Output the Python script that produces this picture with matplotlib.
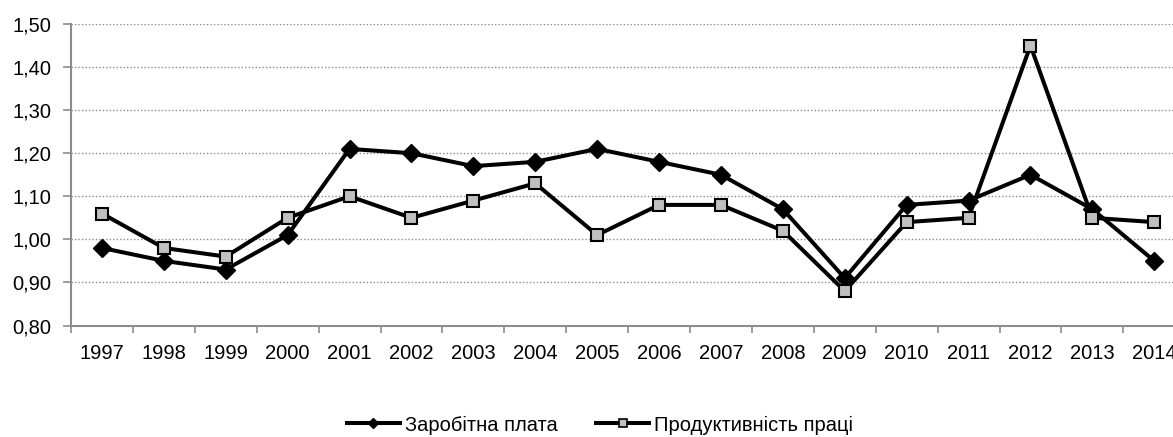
import matplotlib
matplotlib.use("Agg")
import matplotlib.pyplot as plt
from matplotlib.lines import Line2D
from matplotlib.ticker import FixedLocator, FuncFormatter

years = [str(y) for y in range(1997, 2015)]
wages = [0.98, 0.95, 0.93, 1.01, 1.21, 1.20, 1.17, 1.18, 1.21, 1.18, 1.15, 1.07, 0.91, 1.08, 1.09, 1.15, 1.07, 0.95]
productivity = [1.06, 0.98, 0.96, 1.05, 1.10, 1.05, 1.09, 1.13, 1.01, 1.08, 1.08, 1.02, 0.88, 1.04, 1.05, 1.45, 1.05, 1.04]
yticks = [0.80, 0.90, 1.00, 1.10, 1.20, 1.30, 1.40, 1.50]
labels = ['Заробітна плата', 'Продуктивність праці']

plt.rcParams['font.family'] = ['Liberation Sans', 'DejaVu Sans']

fig = plt.figure(figsize=(11.73, 4.37), dpi=100)
ax = fig.add_axes([71 / 1173, 1 - 325.5 / 437, 1 - 71 / 1173, (325.5 - 24) / 437])

x = list(range(len(years)))
ax.plot(x, wages, color='black', lw=2.9, marker='D', ms=9, mfc='black', mec='black', zorder=3)
ax.plot(x, productivity, color='black', lw=2.9, marker='s', ms=8.5, mfc='#c0c0c0', mec='black',
        mew=1.5, zorder=4)

# the category axis runs past the right edge, as in the original
ax.set_ylim(0.80, 1.50)
ax.set_xlim(-0.5, -0.5 + (1173 - 71) / 61.9)
ax.set_yticks(yticks)
ax.yaxis.set_major_formatter(FuncFormatter(lambda v, p: f"{v:.2f}".replace('.', ',')))
ax.set_xticks(x)
ax.set_xticklabels(years)
ax.xaxis.set_minor_locator(FixedLocator([i - 0.5 for i in range(len(years) + 1)]))
ax.tick_params(axis='x', which='major', length=0, pad=13, labelsize=14.5)
ax.tick_params(axis='x', which='minor', length=5, color='#8c8c8c', width=1.2)
ax.tick_params(axis='y', length=6, color='#8c8c8c', width=1.2, labelsize=14.5, pad=8)

for yv in yticks[1:]:
    ax.axhline(yv, color='#8c8c8c', lw=1, ls=(0, (1, 1.5)), zorder=1)

for s in ['top', 'right']:
    ax.spines[s].set_visible(False)
for s in ['left', 'bottom']:
    ax.spines[s].set_color('#8c8c8c')
    ax.spines[s].set_linewidth(1.5)

handles = [
    Line2D([], [], color='black', lw=2.9, marker='D', ms=5, mfc='black', mec='black'),
    Line2D([], [], color='black', lw=2.9, marker='s', ms=6, mfc='#c0c0c0', mec='black', mew=1.2),
]
fig.legend(handles, labels, loc='center', bbox_to_anchor=(600 / 1173, 1 - 425 / 437), ncol=2,
           frameon=False, fontsize=14.5, handlelength=2.65, handletextpad=0.25,
           columnspacing=1.9, borderpad=0, borderaxespad=0)

fig.savefig('out.png', dpi=100)
